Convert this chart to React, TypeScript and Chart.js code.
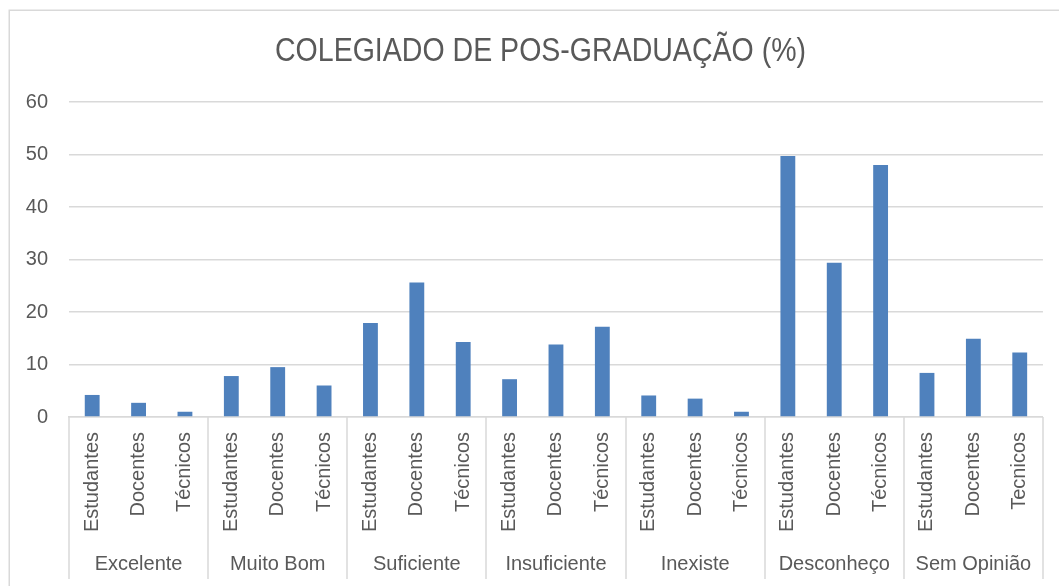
import React, { useEffect, useRef } from "react";
import { Chart, registerables } from "chart.js";

Chart.register(...registerables);

const TITLE = "COLEGIADO DE POS-GRADUAÇÃO (%)";
const groups = ["Excelente", "Muito Bom", "Suficiente", "Insuficiente", "Inexiste", "Desconheço", "Sem Opinião"];
const subLabels = [
  ["Estudantes", "Docentes", "Técnicos"],
  ["Estudantes", "Docentes", "Técnicos"],
  ["Estudantes", "Docentes", "Técnicos"],
  ["Estudantes", "Docentes", "Técnicos"],
  ["Estudantes", "Docentes", "Técnicos"],
  ["Estudantes", "Docentes", "Técnicos"],
  ["Estudantes", "Docentes", "Tecnicos"],
];
const groupValues = [
  [4.2, 2.7, 1.0],
  [7.8, 9.5, 6.0],
  [17.9, 25.6, 14.3],
  [7.2, 13.8, 17.2],
  [4.1, 3.5, 1.0],
  [49.7, 29.4, 48.0],
  [8.4, 14.9, 12.3],
];
const yMin = 0;
const yMax = 60;
const yStep = 10;

const TEXT = "#595959";
const GRID = "#d9d9d9";
const BAR = "#4f81bd";
const FONT = "'Liberation Sans', Arial, sans-serif";

export default function App() {
  const ref = useRef<HTMLCanvasElement | null>(null);

  useEffect(() => {
    if (!ref.current) return;
    const labels = subLabels.flat();
    const values = groupValues.flat();

    const decor = {
      id: "decor",
      beforeDraw(chart: any) {
        const ctx = chart.ctx;
        ctx.save();
        ctx.fillStyle = "#ffffff";
        ctx.fillRect(0, 0, chart.width, chart.height);
        ctx.strokeStyle = GRID;
        ctx.lineWidth = 1.5;
        ctx.strokeRect(9.25, 10.25, chart.width + 20, chart.height + 20);
        ctx.restore();
      },
      afterDraw(chart: any) {
        const ctx = chart.ctx;
        const xs = chart.scales.x;
        const area = chart.chartArea;
        ctx.save();
        // title (condensed horizontally to match the narrow title face)
        ctx.fillStyle = TEXT;
        ctx.font = `34px ${FONT}`;
        ctx.textAlign = "center";
        ctx.textBaseline = "alphabetic";
        const natural = ctx.measureText(TITLE).width;
        const targetW = 531;
        const sx = targetW / natural;
        ctx.save();
        ctx.translate(540.5, 61);
        ctx.scale(sx, 1);
        ctx.fillText(TITLE, 0, 0);
        ctx.restore();
        // group separators
        const n = labels.length;
        const bounds: number[] = [];
        for (let g = 0; g <= groups.length; g++) {
          const i = g * 3;
          let x;
          if (i === 0) x = xs.left;
          else if (i >= n) x = xs.right;
          else x = (xs.getPixelForValue(i - 1) + xs.getPixelForValue(i)) / 2;
          bounds.push(x);
        }
        ctx.strokeStyle = GRID;
        ctx.lineWidth = 1.5;
        bounds.forEach((x) => {
          const px = Math.round(x);
          ctx.beginPath();
          ctx.moveTo(px, area.bottom);
          ctx.lineTo(px, 579);
          ctx.stroke();
        });
        // group labels
        ctx.fillStyle = TEXT;
        ctx.font = `20px ${FONT}`;
        ctx.textAlign = "center";
        ctx.textBaseline = "middle";
        groups.forEach((g, gi) => {
          const cx = (xs.getPixelForValue(gi * 3) + xs.getPixelForValue(gi * 3 + 2)) / 2;
          ctx.fillText(g, cx, 564);
        });
        ctx.restore();
      },
    };

    const chart = new Chart(ref.current, {
      type: "bar",
      data: {
        labels,
        datasets: [
          {
            data: values,
            backgroundColor: BAR,
            borderWidth: 0,
            categoryPercentage: 1,
            barPercentage: 0.32,
          },
        ],
      },
      options: {
        responsive: false,
        animation: false,
        devicePixelRatio: 1,
        layout: { padding: { top: 102, right: 11, left: 0, bottom: 0 } },
        plugins: {
          legend: { display: false },
          title: { display: false },
          tooltip: { enabled: false },
        },
        scales: {
          x: {
            grid: { display: false, drawTicks: false },
            border: { display: true, color: GRID, width: 1.5 },
            ticks: {
              color: TEXT,
              font: { family: FONT, size: 20 },
              minRotation: 90,
              maxRotation: 90,
              autoSkip: false,
              padding: 15,
            },
            afterFit(scale: any) {
              scale.height = 586 - 417;
            },
          },
          y: {
            min: yMin,
            max: yMax,
            grid: { color: GRID, lineWidth: 1.5, drawTicks: false },
            border: { display: false },
            ticks: {
              stepSize: yStep,
              color: TEXT,
              font: { family: FONT, size: 20 },
              padding: 21,
            },
            afterFit(scale: any) {
              scale.width = 69;
            },
          },
        },
      },
      plugins: [decor],
    });
    return () => chart.destroy();
  }, []);

  return (
    <div style={{ position: "fixed", left: 0, top: 0, width: 1059, height: 586, background: "#fff" }}>
      <canvas ref={ref} width={1059} height={586} style={{ display: "block", width: 1059, height: 586 }} />
    </div>
  );
}
